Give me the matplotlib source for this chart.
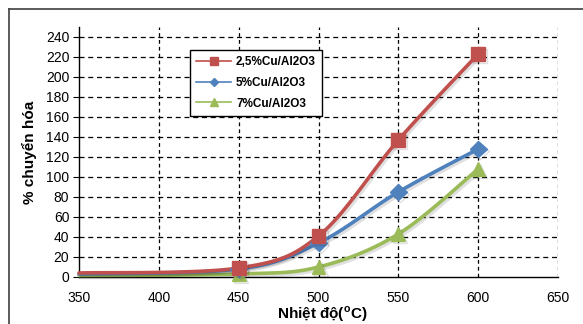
import numpy as np
import matplotlib
matplotlib.use("Agg")
import matplotlib.pyplot as plt
from matplotlib.lines import Line2D
import matplotlib.patheffects as pe

plt.rcParams['font.family'] = ['Liberation Sans', 'DejaVu Sans']
plt.rcParams['mathtext.fontset'] = 'custom'
plt.rcParams['mathtext.rm'] = 'Liberation Sans:bold'

temps = [350, 450, 500, 550, 600]
s_25 = [4, 9, 41, 137, 223]
s_5 = [3, 8, 34, 85, 128]
s_7 = [1.5, 3, 10, 43, 108]
labels = ['2,5%Cu/Al2O3', '5%Cu/Al2O3', '7%Cu/Al2O3']
colors = ['#C0504D', '#4F81BD', '#9BBB59']
markers = ['s', 'D', '^']
xticks = [350, 400, 450, 500, 550, 600, 650]
yticks = list(range(0, 241, 20))


def smooth(x, y, n=30):
    x = np.asarray(x, float); y = np.asarray(y, float)
    P = np.column_stack([x, y])
    out = []
    for i in range(len(P) - 1):
        p0 = P[i - 1] if i > 0 else P[i]
        p1 = P[i]; p2 = P[i + 1]
        p3 = P[i + 2] if i + 2 < len(P) else P[i + 1]
        c1 = p1 + (p2 - p0) / 6.0
        c2 = p2 - (p3 - p1) / 6.0
        t = np.linspace(0, 1, n)[:, None]
        seg = ((1 - t) ** 3) * p1 + 3 * ((1 - t) ** 2) * t * c1 + 3 * (1 - t) * t ** 2 * c2 + t ** 3 * p2
        out.append(seg if i == 0 else seg[1:])
    s = np.vstack(out)
    return s[:, 0], s[:, 1]


fig = plt.figure(figsize=(5.83, 3.24), dpi=100)
ax = fig.add_axes([79 / 583, 1 - 277 / 324, (558 - 79) / 583, (277 - 27) / 324])

for ys, c, m in zip([s_7, s_5, s_25], colors[::-1], markers[::-1]):
    sx, sy = smooth(temps, ys)
    ax.plot(sx, sy, color=c, lw=2.6, solid_capstyle='round',
            path_effects=[pe.SimpleLineShadow(offset=(1.5, -1.5), alpha=0.12), pe.Normal()],
            zorder=3, clip_on=False)
    ax.plot(temps[1:], ys[1:], linestyle='none', marker=m, color=c,
            markersize=10 if m != 'D' else 8.5, zorder=4, clip_on=False,
            path_effects=[pe.SimpleLineShadow(offset=(1.5, -1.5), alpha=0.12), pe.Normal()])

ax.set_xlim(350, 650)
ax.set_ylim(0, 250)
ax.set_xticks(xticks)
ax.set_yticks(yticks)
ax.tick_params(axis='both', labelsize=10, length=4, width=0.8, color='black', direction='out', pad=3)
ax.tick_params(axis='x', length=0, pad=10)

for y in yticks[1:]:
    ax.axhline(y, color='black', lw=0.9, ls=(0, (4, 3)), zorder=1)
for x in xticks[1:]:
    ax.axvline(x, color='black', lw=0.9, ls=(0, (3, 2.5)), zorder=1)

ax.spines['top'].set_visible(False)
ax.spines['right'].set_visible(False)
ax.spines['left'].set_linewidth(1.0)
ax.spines['bottom'].set_linewidth(1.0)

ax.set_ylabel('% chuyển hóa', fontsize=11, fontweight='bold', labelpad=6)
ax.set_xlabel(r'Nhiệt độ($^{\mathrm{o}}$C)', fontsize=11, fontweight='bold', labelpad=0)
ax.xaxis.set_label_coords((322 - 79) / 479, -(314 - 277) / 250)
ax.xaxis.label.set_va('center')

handles = [Line2D([0], [0], color=c, lw=1.2, marker=m, markersize=6 if m != 'D' else 4.5)
           for c, m in zip(colors, markers)]
leg = ax.legend(handles, labels, loc='upper left', bbox_to_anchor=((190 - 79) / 479, (277 - 50) / 250),
                frameon=True, fancybox=False, edgecolor='black', framealpha=1, borderaxespad=0,
                prop={'weight': 'bold', 'size': 8.5}, handlelength=3.0, borderpad=0.5,
                labelspacing=0.75, handletextpad=0.4)
leg.get_frame().set_linewidth(1.0)

# outer frame (left & top)
fig.add_artist(Line2D([9 / 583, 9 / 583], [0, 1 - 9 / 324], transform=fig.transFigure, color='#404040', lw=1.2))
fig.add_artist(Line2D([9 / 583, 1], [1 - 9 / 324, 1 - 9 / 324], transform=fig.transFigure, color='#404040', lw=1.2))

fig.savefig('out.png', dpi=100)
